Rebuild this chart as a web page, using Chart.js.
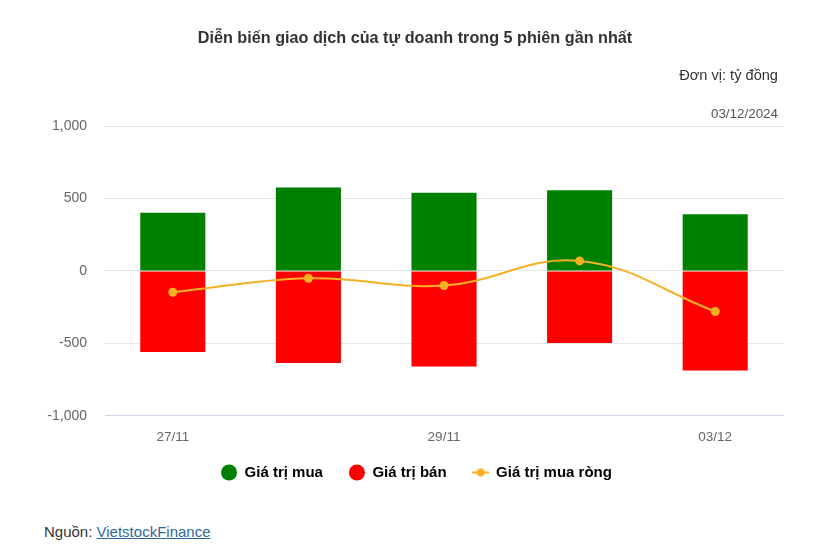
<!DOCTYPE html>
<html>
<head>
<meta charset="utf-8">
<script src="https://cdn.jsdelivr.net/npm/chart.js@4"></script>
<style>
  html, body { margin: 0; padding: 0; background: #fff; }
  body { width: 820px; height: 557px; position: relative; overflow: hidden; font-family: "Liberation Sans", Arial, sans-serif; }
  #title { position: absolute; left: 0; width: 830px; top: 28px; text-align: center; font-weight: bold; font-size: 16.2px; color: #333; }
  #unit { position: absolute; right: 42px; top: 67px; font-size: 14.6px; color: #333; }
  #date { position: absolute; right: 42px; top: 106px; font-size: 13.4px; color: #555; }
  #src { position: absolute; left: 44px; top: 523px; font-size: 15px; color: #333; }
  #src a { color: #33689a; text-decoration: underline; }
  #wrap { position: absolute; left: 0; top: 0; width: 820px; height: 509px; }
</style>
</head>
<body>
<div id="wrap"><canvas id="c" width="820" height="509"></canvas></div>
<div id="title">Diễn biến giao dịch của tự doanh trong 5 phiên gần nhất</div>
<div id="unit">Đơn vị: tỷ đồng</div>
<div id="date">03/12/2024</div>
<div id="src">Nguồn: <a href="#">VietstockFinance</a></div>
<script>
const categories = ["27/11", "28/11", "29/11", "02/12", "03/12"];
const buyValues = [401, 575, 539, 557, 391];
const sellValues = [-560, -636, -659, -498, -688];
const netValues = [-147, -51, -101, 69, -280];
const yTicks = [-1000, -500, 0, 500, 1000];

const lineColor = '#f4b124';
const legendLine = document.createElement('canvas');
legendLine.width = 17; legendLine.height = 10;
(function () {
  const g = legendLine.getContext('2d');
  g.strokeStyle = lineColor; g.lineWidth = 2;
  g.beginPath(); g.moveTo(0, 5); g.lineTo(17, 5); g.stroke();
  g.fillStyle = lineColor;
  g.beginPath(); g.arc(8.5, 5, 4, 0, Math.PI * 2); g.fill();
})();

const legendShift = {
  id: 'legendShift',
  afterLayout(chart) {
    const l = chart.legend;
    if (!l) return;
    l.top -= 19; l.bottom -= 19;
    l.left += 25; l.right += 25;
  }
};

new Chart(document.getElementById('c'), {
  data: {
    labels: categories,
    datasets: [
      { type: 'line', label: 'Giá trị mua ròng', data: netValues, borderColor: lineColor, backgroundColor: lineColor,
        borderWidth: 2, tension: 0.4, pointRadius: 4.5, pointHoverRadius: 4.5, pointBackgroundColor: lineColor, pointBorderWidth: 0, order: 0 },
      { type: 'bar', label: 'Giá trị mua', data: buyValues, backgroundColor: '#008000', stack: 's', order: 1,
        barPercentage: 0.48, categoryPercentage: 1 },
      { type: 'bar', label: 'Giá trị bán', data: sellValues, backgroundColor: '#ff0000', stack: 's', order: 1,
        barPercentage: 0.48, categoryPercentage: 1 }
    ]
  },
  plugins: [legendShift],
  options: {
    responsive: false,
    animation: false,
    layout: { padding: { top: 126, right: 37, left: 0, bottom: 0 } },
    scales: {
      x: {
        stacked: true,
        grid: { display: false, drawTicks: false },
        border: { display: true, color: '#ccd6eb', width: 1 },
        ticks: {
          color: '#666', font: { family: 'Liberation Sans', size: 13.5 }, padding: 13,
          maxRotation: 0, autoSkip: false,
          callback: function (v, i) { return i % 2 === 0 ? categories[i] : ''; }
        }
      },
      y: {
        stacked: true,
        min: -1000, max: 1000,
        afterFit: function (s) { s.width = 105; },
        afterBuildTicks: function (s) { s.ticks = yTicks.map(v => ({ value: v })); },
        grid: { color: '#e6e6e6', drawTicks: false },
        border: { display: false },
        ticks: {
          color: '#666', font: { family: 'Liberation Sans', size: 14 }, padding: 18,
          callback: function (v) { return v.toLocaleString('en-US'); }
        }
      }
    },
    plugins: {
      tooltip: { enabled: false },
      legend: {
        position: 'bottom',
        labels: {
          usePointStyle: true,
          pointStyleWidth: 16,
          boxHeight: 11.3,
          color: '#333',
          font: { family: 'Liberation Sans', size: 15, weight: 'bold' },
          padding: 26,
          generateLabels: function (chart) {
            const order = [1, 2, 0];
            return order.map(i => {
              const ds = chart.data.datasets[i];
              return {
                text: ds.label,
                fillStyle: ds.backgroundColor,
                strokeStyle: ds.backgroundColor,
                lineWidth: 0,
                pointStyle: i === 0 ? legendLine : 'circle',
                datasetIndex: i,
                hidden: false
              };
            });
          }
        }
      }
    }
  }
});
</script>
</body>
</html>
